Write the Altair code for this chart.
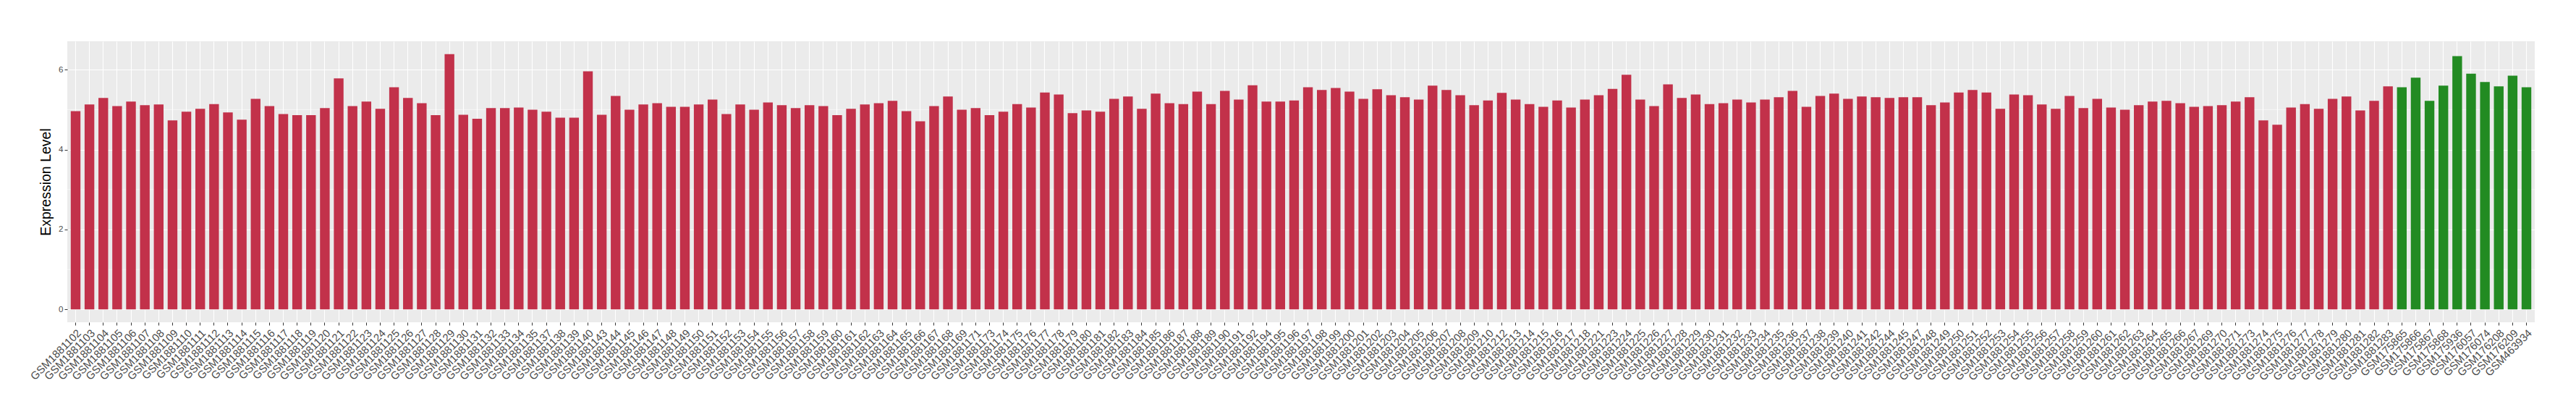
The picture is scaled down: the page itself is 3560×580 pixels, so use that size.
import altair as alt
import pandas as pd

# sample suffixes (GSM1881xxx tumour samples)
tumor_ids = [
    102, 103, 104, 105, 106, 107, 108, 109, 110, 111, 112, 113, 114, 115, 116, 117, 118, 119, 120,
    121, 122, 123, 124, 125, 126, 127, 128, 129, 130, 131, 132, 133, 134, 135, 137, 138, 139, 140,
    143, 144, 145, 146, 147, 148, 149, 150, 151, 152, 153, 154, 155, 156, 157, 158, 159, 160, 161,
    162, 163, 164, 165, 166, 167, 168, 169, 171, 173, 174, 175, 176, 177, 178, 179, 180, 181, 182,
    183, 184, 185, 186, 187, 188, 189, 190, 191, 192, 194, 195, 196, 197, 198, 199, 200, 201, 202,
    203, 204, 205, 206, 207, 208, 209, 210, 212, 213, 214, 215, 216, 217, 218, 221, 223, 224, 225,
    226, 227, 228, 229, 230, 231, 232, 233, 234, 235, 236, 237, 238, 239, 240, 241, 242, 244, 245,
    247, 248, 249, 250, 251, 252, 253, 254, 255, 256, 257, 258, 259, 260, 261, 262, 263, 264, 265,
    266, 267, 269, 270, 271, 273, 274, 275, 276, 277, 278, 279, 280, 281, 282, 283,
]
tumor_values = [
    4.96, 5.13, 5.29, 5.09, 5.20, 5.11, 5.13, 4.73, 4.95, 5.02, 5.14, 4.93, 4.75, 5.27, 5.09, 4.89, 4.86, 4.86, 5.04,
    5.78, 5.09, 5.20, 5.02, 5.56, 5.29, 5.16, 4.86, 6.39, 4.87, 4.77, 5.04, 5.04, 5.05, 5.00, 4.95, 4.80, 4.80, 5.96,
    4.87, 5.34, 5.00, 5.13, 5.16, 5.07, 5.07, 5.13, 5.25, 4.89, 5.13, 5.00, 5.18, 5.11, 5.04, 5.11, 5.09, 4.86, 5.02,
    5.13, 5.16, 5.22, 4.96, 4.71, 5.09, 5.33, 5.00, 5.04, 4.86, 4.95, 5.14, 5.05, 5.43, 5.38, 4.91, 4.98, 4.95, 5.27,
    5.33, 5.02, 5.40, 5.16, 5.14, 5.45, 5.14, 5.47, 5.25, 5.61, 5.20, 5.20, 5.23, 5.56, 5.49, 5.54, 5.45, 5.27, 5.51,
    5.36, 5.31, 5.25, 5.60, 5.49, 5.36, 5.11, 5.23, 5.42, 5.25, 5.14, 5.07, 5.23, 5.05, 5.25, 5.36, 5.52, 5.87, 5.25,
    5.09, 5.63, 5.29, 5.38, 5.14, 5.16, 5.25, 5.18, 5.25, 5.31, 5.47, 5.07, 5.34, 5.40, 5.27, 5.33, 5.31, 5.29, 5.31,
    5.31, 5.11, 5.18, 5.43, 5.49, 5.43, 5.02, 5.38, 5.36, 5.13, 5.02, 5.34, 5.04, 5.27, 5.05, 5.00, 5.11, 5.20, 5.22,
    5.16, 5.07, 5.09, 5.11, 5.20, 5.31, 4.73, 4.62, 5.05, 5.14, 5.02, 5.27, 5.33, 4.98, 5.22, 5.58,
]
normal_samples = [
    "GSM175865", "GSM175866", "GSM175867", "GSM175868", "GSM175936",
    "GSM176057", "GSM176074", "GSM176208", "GSM176209", "GSM463934",
]
normal_values = [5.56, 5.80, 5.22, 5.60, 6.34, 5.90, 5.69, 5.58, 5.85, 5.56]

tumor_samples = ["GSM1881" + str(i) for i in tumor_ids]
samples = tumor_samples + normal_samples
values = tumor_values + normal_values
groups = ["tumor"] * len(tumor_samples) + ["normal"] * len(normal_samples)

df = pd.DataFrame({"sample": samples, "value": values, "group": groups})
minor_df = pd.DataFrame({"m": [1, 3, 5]})

FONT = "Liberation Sans"
W = 3410
H = 388

x_enc = alt.X(
    "sample:N",
    sort=samples,
    scale=alt.Scale(paddingInner=0, paddingOuter=0.1),
    axis=alt.Axis(
        title=None,
        labelAngle=-45,
        labelAlign="right",
        labelBaseline="top",
        labelFontSize=15,
        labelColor="#4D4D4D",
        labelFont=FONT,
        labelPadding=3,
        tickColor="#333333",
        tickSize=4,
        grid=True,
        gridColor="white",
        gridWidth=1.1,
        domain=False,
        labelOverlap=False,
    ),
)
y_scale = alt.Scale(domain=[-0.32, 6.71], nice=False, zero=False)

minor = alt.Chart(minor_df).mark_rule(color="white", strokeWidth=0.55).encode(
    y=alt.Y("m:Q", scale=y_scale)
)

bars = alt.Chart(df).mark_bar(width=alt.RelativeBandSize(0.7)).encode(
    x=x_enc,
    y=alt.Y(
        "value:Q",
        scale=y_scale,
        axis=alt.Axis(
            values=[0, 2, 4, 6],
            format="d",
            title="Expression Level",
            titleFontSize=19.5,
            titleFontWeight="normal",
            titleFont=FONT,
            titleColor="black",
            titlePadding=7,
            labelFontSize=11.5,
            labelColor="#4D4D4D",
            labelFont=FONT,
            labelPadding=2,
            tickColor="#333333",
            tickSize=4,
            grid=True,
            gridColor="white",
            gridWidth=1.1,
            domain=False,
        ),
    ),
    y2=alt.datum(0),
    color=alt.Color(
        "group:N",
        scale=alt.Scale(domain=["tumor", "normal"], range=["#C2314A", "#228B22"]),
        legend=None,
    ),
)

chart = (
    alt.layer(minor, bars)
    .properties(
        width=W,
        height=H,
        padding={"left": 85, "top": 49, "right": 49, "bottom": 127},
        autosize=alt.AutoSizeParams(type="none"),
        background="white",
    )
    .configure_view(fill="#EBEBEB", stroke=None)
)

chart.save("out.html", embed_options={"renderer": "svg", "actions": False})
